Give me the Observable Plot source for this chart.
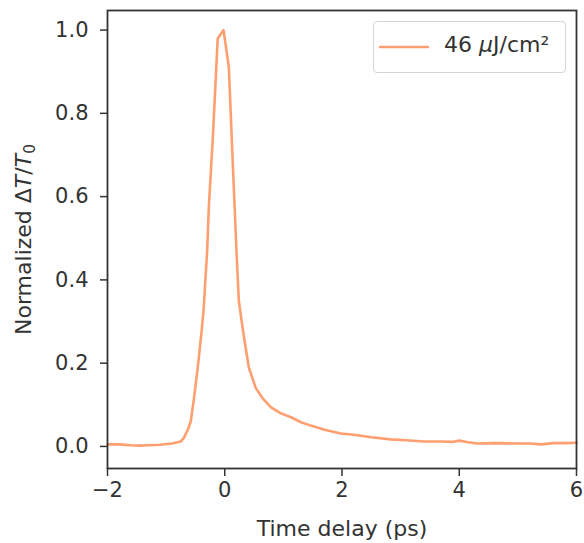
<!DOCTYPE html>
<html>
<head>
<meta charset="utf-8">
<script src="https://cdn.jsdelivr.net/npm/d3@7"></script>
<script src="https://cdn.jsdelivr.net/npm/@observablehq/plot@0.6"></script>
<style>
  body { margin: 0; background: #fff; }
  #wrap { position: relative; width: 584px; height: 543px; font-family: "DejaVu Sans", sans-serif; }
  #legend { position: absolute; left: 373px; top: 21px; width: 193px; height: 52px;
    border: 1px solid #d4d4d4; border-radius: 4px; background: rgba(255,255,255,0.85); box-sizing: border-box; }
  #legend svg { position: absolute; left: 4px; top: 20px; }
  #legend span { position: absolute; left: 70px; top: 10px; font-size: 22px; color: #333; white-space: nowrap; }
</style>
</head>
<body>
<div id="wrap"></div>
<script>
// Time delay (ps)
const times = [-2.0, -1.8, -1.6, -1.45, -1.3, -1.1, -0.9, -0.75, -0.7, -0.63, -0.58, -0.53, -0.46, -0.4, -0.36, -0.3,
  -0.27, -0.2, -0.12, -0.02, 0.07, 0.14, 0.2, 0.24, 0.32, 0.41, 0.53, 0.65, 0.79, 0.95, 1.13, 1.3, 1.47, 1.7,
  1.98, 2.2, 2.5, 2.83, 3.1, 3.4, 3.7, 3.9, 4.0, 4.15, 4.3, 4.6, 5.0, 5.2, 5.4, 5.6, 5.8, 6.0];
// Normalized ΔT/T0
const values = [0.005, 0.005, 0.003, 0.002, 0.003, 0.004, 0.007, 0.012, 0.02, 0.04, 0.06, 0.11, 0.19, 0.27, 0.33, 0.47,
  0.58, 0.75, 0.98, 1.0, 0.91, 0.67, 0.47, 0.35, 0.27, 0.19, 0.14, 0.115, 0.094, 0.08, 0.07, 0.058, 0.05, 0.04,
  0.031, 0.028, 0.022, 0.017, 0.015, 0.012, 0.012, 0.011, 0.014, 0.01, 0.007, 0.008, 0.007, 0.007, 0.005, 0.008, 0.008, 0.009];
const xTicks = [-2, 0, 2, 4, 6];
const yTicks = [0.0, 0.2, 0.4, 0.6, 0.8, 1.0];
const seriesLabel = "46 μJ/cm²";
const xLabel = "Time delay (ps)";
const yLabel = "Normalized ΔT/T0";
const lineColor = "#ff9f70";

const data = times.map((t, i) => ({t, v: values[i]}));

const chart = Plot.plot({
  width: 584,
  height: 543,
  marginLeft: 107,
  marginRight: 8,
  marginTop: 10,
  marginBottom: 75,
  style: {fontFamily: "DejaVu Sans, sans-serif", fontSize: "21px", color: "#333", background: "#fff"},
  x: {domain: [-2, 6]},
  y: {domain: [-0.053, 1.047]},
  marks: [
    Plot.axisX({ticks: xTicks, tickFormat: d3.format("d"), tickSize: 8, tickPadding: 6, label: null, stroke: "#333", strokeWidth: 1.5}),
    Plot.axisY({ticks: yTicks, tickFormat: d3.format(".1f"), tickSize: 7, tickPadding: 12, label: null, stroke: "#333", strokeWidth: 1.5}),
    Plot.line(data, {x: "t", y: "v", stroke: lineColor, strokeWidth: 2.6}),
    Plot.frame({stroke: "#333", strokeWidth: 1.8}),
    Plot.text([xLabel], {frameAnchor: "bottom", lineAnchor: "bottom", dy: 67, fontSize: 22, fill: "#333"}),
    Plot.text([yLabel], {frameAnchor: "left", textAnchor: "middle", rotate: -90, dx: -84, lineAnchor: "middle", fontSize: 22, fill: "#333"})
  ]
});

// rich text for the y label: italic T, subscript 0
for (const t of chart.querySelectorAll("text")) {
  if (t.textContent === yLabel) {
    t.textContent = "";
    const ns = "http://www.w3.org/2000/svg";
    const parts = [["Normalized Δ", {}], ["T", {"font-style": "italic"}], ["/", {}], ["T", {"font-style": "italic"}], ["0", {"font-size": "0.7em", "dy": "0.3em"}]];
    for (const [s, attrs] of parts) {
      const sp = document.createElementNS(ns, "tspan");
      sp.textContent = s;
      for (const k in attrs) sp.setAttribute(k, attrs[k]);
      t.appendChild(sp);
    }
  }
}

const wrap = document.getElementById("wrap");
wrap.appendChild(chart);

const legend = document.createElement("div");
legend.id = "legend";
legend.innerHTML = `<svg width="56" height="10"><line x1="1" x2="51" y1="5" y2="5" stroke="${lineColor}" stroke-width="2.6"/></svg>` +
  `<span>46 <i>μ</i>J/cm²</span>`;
wrap.appendChild(legend);
</script>
</body>
</html>
